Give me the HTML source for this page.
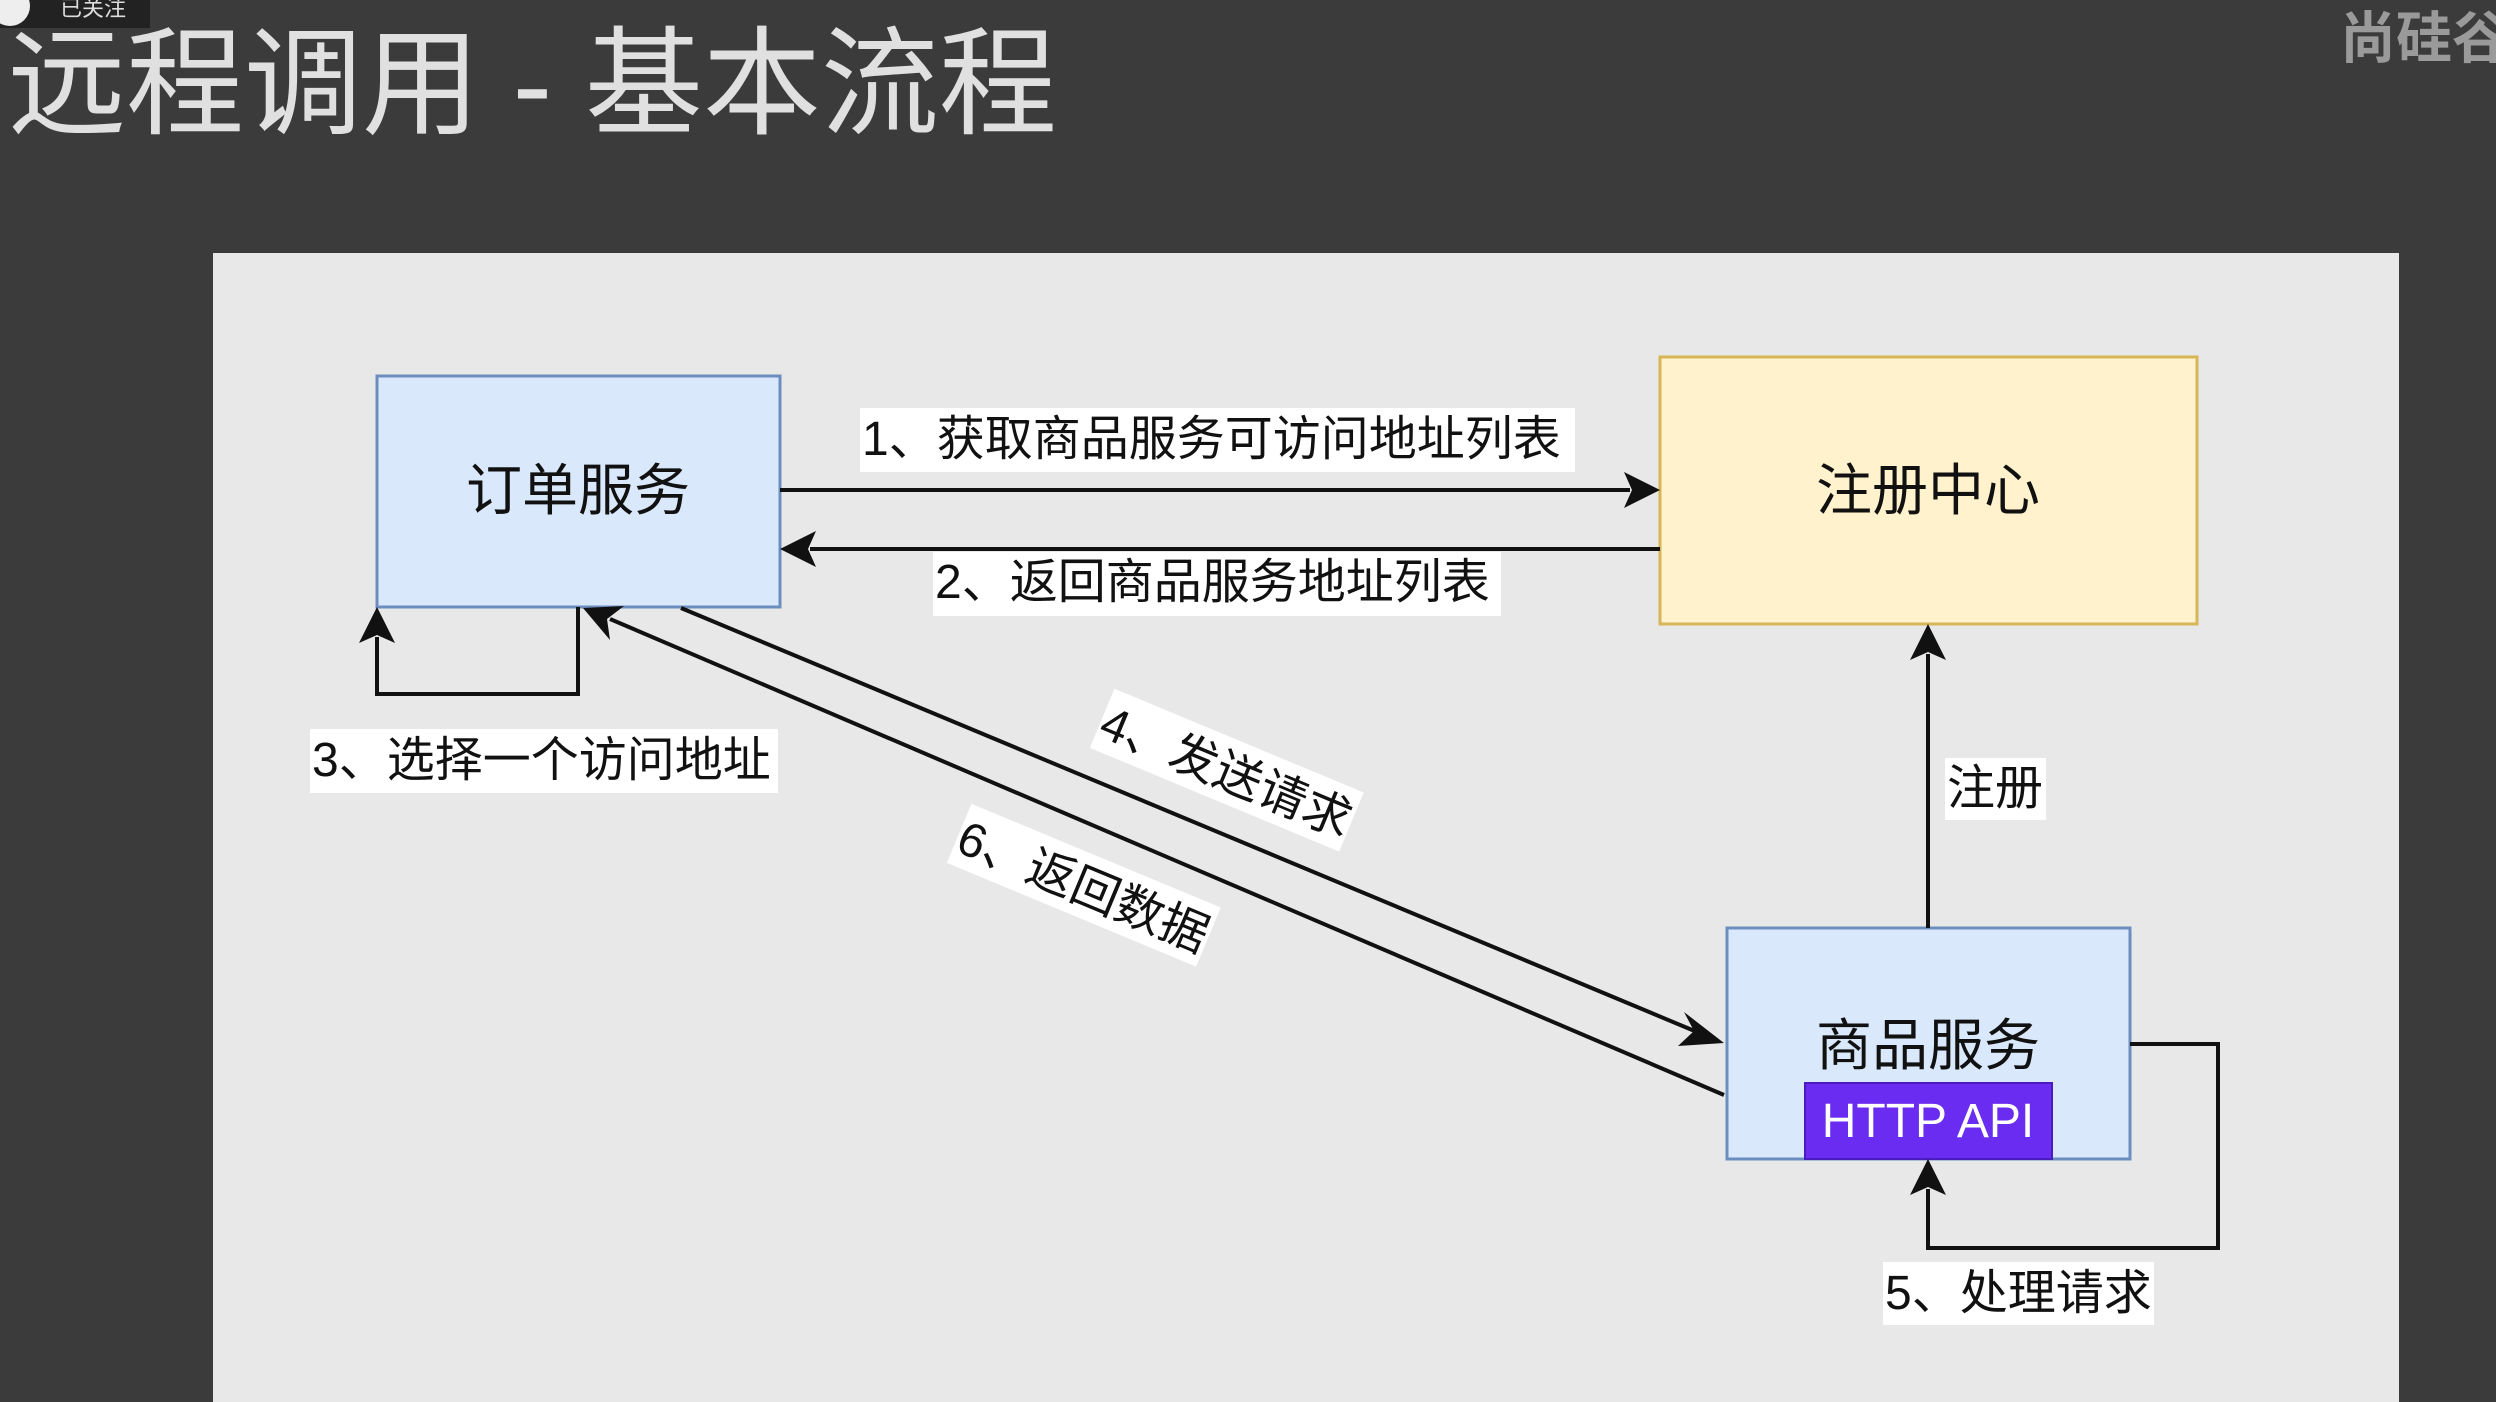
<!DOCTYPE html>
<html><head><meta charset="utf-8"><style>
html,body{margin:0;padding:0;background:#3b3b3b;width:2496px;height:1402px;overflow:hidden}
svg{display:block}
text{font-family:"Liberation Sans","Noto Sans CJK SC",sans-serif}
</style></head><body>
<svg width="2496" height="1402" viewBox="0 0 2496 1402" xmlns="http://www.w3.org/2000/svg">
<defs>
<marker id="ah" markerWidth="10" markerHeight="10" refX="9" refY="5" orient="auto" markerUnits="userSpaceOnUse" viewBox="0 0 10 10">
</marker>
</defs>
<rect width="2496" height="1402" fill="#3b3b3b"/>
<rect x="0" y="0" width="150" height="28" fill="#222"/>
<circle cx="10" cy="6" r="20" fill="#eee"/>
<text x="60" y="16" font-size="22" fill="#ddd">已关注</text>
<text x="8" y="125" font-size="118" fill="#e0e0e0">远程调用 - 基本流程</text>
<text x="2340" y="58" font-size="56" fill="#9a9a9a" font-weight="bold">尚硅谷</text>

<rect x="213" y="253" width="2186" height="1149" fill="#e8e8e8"/>

<!-- boxes -->
<rect x="377" y="376" width="403" height="231" fill="#dae8fc" stroke="#6c8ebf" stroke-width="3"/>
<text x="578" y="510" font-size="56" text-anchor="middle" fill="#111">订单服务</text>
<rect x="1660" y="357" width="537" height="267" fill="#fff2cc" stroke="#d6b656" stroke-width="3"/>
<text x="1928" y="510" font-size="56" text-anchor="middle" fill="#111">注册中心</text>
<rect x="1727" y="928" width="403" height="231" fill="#dae8fc" stroke="#6c8ebf" stroke-width="3"/>
<text x="1928" y="1065" font-size="56" text-anchor="middle" fill="#111">商品服务</text>
<rect x="1805" y="1083" width="247" height="76" fill="#6a2cf0" stroke="#4a1cc0" stroke-width="2"/>
<text x="1928" y="1137" font-size="48" text-anchor="middle" fill="#fff">HTTP API</text>

<g stroke="#111" stroke-width="4" fill="none">
<line x1="780" y1="490" x2="1630" y2="490"/>
<line x1="1660" y1="549" x2="810" y2="549"/>
<polyline points="578,607 578,694 377,694 377,637"/>
<line x1="681" y1="608" x2="1697" y2="1032"/>
<line x1="1724" y1="1095" x2="610" y2="619"/>
<line x1="1928" y1="928" x2="1928" y2="654"/>
<polyline points="2130,1044 2218,1044 2218,1248 1928,1248 1928,1189"/>
</g>
<g fill="#111">
<polygon points="1660,490 1624,472 1632,490 1624,508"/>
<polygon points="780,549 816,531 808,549 816,567"/>
<polygon points="377,607 359,643 377,635 395,643"/>
<polygon points="1724,1043 1684,1012 1694,1031 1678,1046"/>
<polygon points="583,608 610,640 607,619 624,606"/>
<polygon points="1928,624 1910,660 1928,652 1946,660"/>
<polygon points="1928,1159 1910,1195 1928,1187 1946,1195"/>
</g>

<g font-size="48" fill="#111">
<rect x="860" y="408" width="715" height="64" fill="#fff"/>
<text x="862" y="455">1、获取商品服务可访问地址列表</text>
<rect x="933" y="552" width="568" height="64" fill="#fff"/>
<text x="935" y="598">2、返回商品服务地址列表</text>
<rect x="310" y="729" width="468" height="64" fill="#fff"/>
<text x="312" y="776">3、选择一个访问地址</text>
<rect x="1945" y="758" width="101" height="62" fill="#fff"/>
<text x="1947" y="804">注册</text>
<rect x="1883" y="1262" width="271" height="63" fill="#fff"/>
<text x="1885" y="1309">5、处理请求</text>
<g transform="translate(1226,772) rotate(22.6)">
<rect x="-135" y="-34" width="270" height="64" fill="#fff"/>
<text x="0" y="16" text-anchor="middle">4、发送请求</text>
</g>
<g transform="translate(1083,887) rotate(22.6)">
<rect x="-135" y="-34" width="270" height="64" fill="#fff"/>
<text x="0" y="16" text-anchor="middle">6、返回数据</text>
</g>
</g>
</svg>
</body></html>
